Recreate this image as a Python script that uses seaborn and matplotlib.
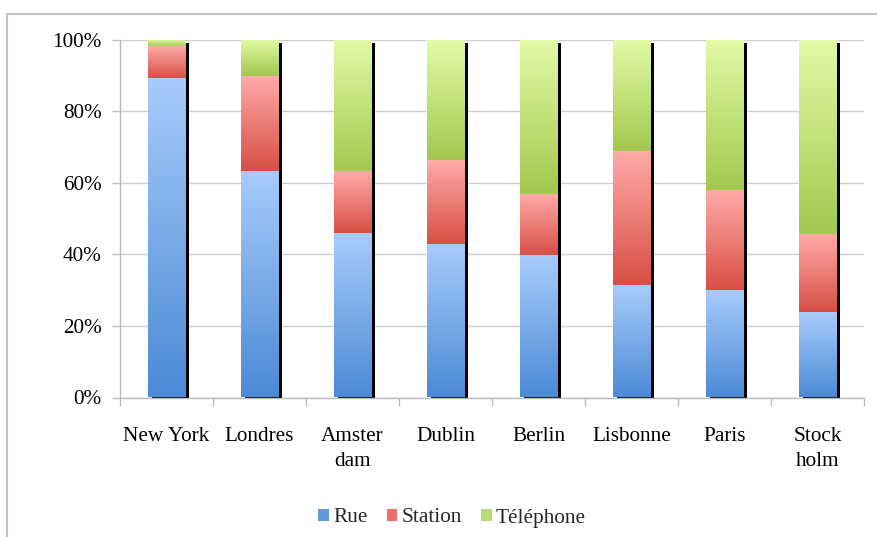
import numpy as np
import pandas as pd
import matplotlib
matplotlib.use("Agg")
import matplotlib.pyplot as plt
import matplotlib.transforms as mtransforms
from matplotlib.colors import LinearSegmentedColormap
from matplotlib.patches import Patch
from matplotlib.lines import Line2D
import seaborn as sns

# ---- data ----
cities = ["New York", "Londres", "Amster\ndam", "Dublin", "Berlin", "Lisbonne", "Paris", "Stock\nholm"]
rue = [89.0, 63.1, 45.6, 42.5, 39.5, 31.2, 29.7, 23.5]
station = [9.0, 26.7, 17.5, 23.6, 17.3, 37.5, 28.1, 22.0]
telephone = [2.0, 10.2, 36.9, 33.9, 43.2, 31.3, 42.2, 54.5]
series_names = ["Rue", "Station", "Téléphone"]
yticks = [0, 20, 40, 60, 80, 100]

sns.set_theme(style="white")
plt.rcParams["font.family"] = ["Liberation Serif", "DejaVu Serif"]
FS = 15.3

fig = plt.figure(figsize=(8.77, 5.37), dpi=100)
ax = fig.add_axes([120/877, 1-397.5/537, 744/877, 358/537])

df = pd.DataFrame({"city": cities, "Rue": rue, "Station": station, "Téléphone": telephone})
df["c2"] = df["Rue"] + df["Station"]
df["c3"] = df["c2"] + df["Téléphone"]

# shadow bars
sns.barplot(data=df, x="city", y="c3", color="black", width=0.4, ax=ax,
            saturation=1, order=cities, zorder=1)
shadow_patches = list(ax.patches)
off = mtransforms.ScaledTranslation(4/100, -3/100, fig.dpi_scale_trans)
for p in shadow_patches:
    p.set_transform(ax.transData + off)
    p.set_linewidth(0)

grad = {
    "Rue": ("#4b8ad6", "#a8cbfb"),
    "Station": ("#d64e44", "#ffaaa7"),
    "Téléphone": ("#a2c84e", "#e1fba6"),
}
bottoms = {"Rue": [0]*len(cities), "Station": list(df["Rue"]), "Téléphone": list(df["c2"])}
tops = {"Rue": list(df["Rue"]), "Station": list(df["c2"]), "Téléphone": list(df["c3"])}

for col, name in zip(["c3", "c2", "Rue"], ["Téléphone", "Station", "Rue"]):
    n_before = len(ax.patches)
    sns.barplot(data=df, x="city", y=col, color=grad[name][0], width=0.4, ax=ax,
                saturation=1, order=cities, zorder=2)
    new = ax.patches[n_before:]
    cmap = LinearSegmentedColormap.from_list(name, [grad[name][0], grad[name][1]])
    g = np.linspace(0, 1, 256).reshape(-1, 1)
    for i, p in enumerate(new):
        p.set_linewidth(0)
        x0 = p.get_x()
        w = p.get_width()
        b, t = bottoms[name][i], tops[name][i]
        ax.imshow(g, cmap=cmap, origin="lower", aspect="auto",
                  extent=[x0, x0 + w, b, t], zorder=3)
        p.set_alpha(0)

ax.set_xlim(-0.5, len(cities) - 0.5)
ax.set_ylim(0, 100)
ax.set_yticks(yticks)
ax.set_yticklabels([f"{v}%" for v in yticks], fontsize=FS, color="black")
ax.set_xticks(range(len(cities)))
ax.set_xticklabels(cities, fontsize=FS, color="black", linespacing=1.45)
ax.set_xlabel("")
ax.set_ylabel("")
ax.tick_params(axis="x", length=0, pad=21)
ax.tick_params(axis="y", length=6, color="#bbbbbb", width=1, pad=7, direction="out", left=True)
# x boundary ticks
ax.set_xticks(np.arange(-0.5, len(cities), 1), minor=True)
ax.tick_params(axis="x", which="minor", length=6, color="#bbbbbb", width=1, bottom=True, direction="out")

ax.grid(axis="y", color="#cfcfcf", linewidth=1)
ax.grid(axis="x", visible=False)
ax.set_axisbelow(True)
for s in ["top", "right"]:
    ax.spines[s].set_visible(False)
for s in ["left", "bottom"]:
    ax.spines[s].set_color("#bbbbbb")
    ax.spines[s].set_linewidth(1)

# outer chart frame (partially visible)
fig.add_artist(Line2D([7/877, 1.0], [1-14/537, 1-14/537], transform=fig.transFigure,
                      color="#c4c4c4", linewidth=1.5))
fig.add_artist(Line2D([7/877, 7/877], [0, 1-14/537], transform=fig.transFigure,
                      color="#c4c4c4", linewidth=1.5))

handles = [Patch(facecolor="#5e98df", edgecolor="none"),
           Patch(facecolor="#ea716b", edgecolor="none"),
           Patch(facecolor="#b8da73", edgecolor="none")]
fig.legend(handles, series_names, loc="center", bbox_to_anchor=(452/877, 1-518/537),
           ncol=3, frameon=False, fontsize=FS, handlelength=0.5, handleheight=0.5,
           handletextpad=0.2, columnspacing=0.9)

fig.savefig("out.png", dpi=100)
